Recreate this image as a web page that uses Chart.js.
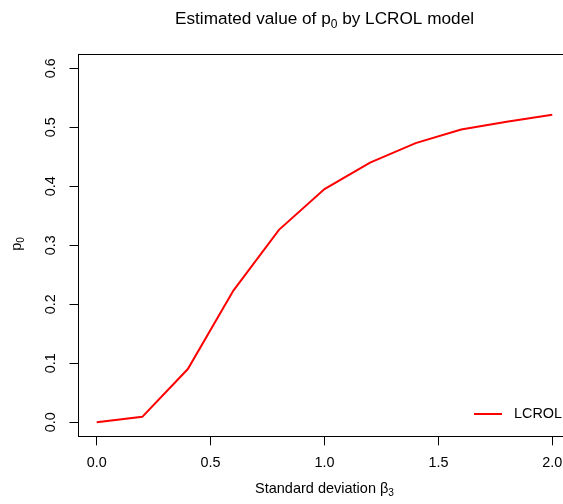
<!DOCTYPE html>
<html>
<head>
<meta charset="utf-8">
<script src="https://cdn.jsdelivr.net/npm/chart.js@4/dist/chart.umd.min.js"></script>
<style>
  html, body { margin: 0; padding: 0; background: #fff; overflow: hidden; width: 563px; height: 504px; }
  #wrap { width: 600px; height: 504px; }
</style>
</head>
<body>
<div id="wrap"><canvas id="c" width="600" height="504"></canvas></div>
<script>
// ---- data ----
const xValues = [0.0, 0.2, 0.4, 0.6, 0.8, 1.0, 1.2, 1.4, 1.6, 1.8, 2.0];
const pValues = [0.000, 0.009, 0.090, 0.223, 0.326, 0.395, 0.440, 0.473, 0.496, 0.509, 0.521];
const xTicks = [0.0, 0.5, 1.0, 1.5, 2.0];
const yTicks = [0.0, 0.1, 0.2, 0.3, 0.4, 0.5, 0.6];
const seriesName = 'LCROL';
// rich texts: [text, isSubscript]
const titleParts = [['Estimated value of p', false], ['0', true], [' by LCROL model', false]];
const xTitleParts = [['Standard deviation \u03B2', false], ['3', true]];
const yTitleParts = [['p', false], ['0', true]];

const FONT = '"Liberation Sans", Arial, Helvetica, sans-serif';

function drawRich(ctx, parts, size, cx, cy, rotate) {
  ctx.save();
  ctx.translate(cx, cy);
  if (rotate) ctx.rotate(-Math.PI / 2);
  ctx.textBaseline = 'alphabetic';
  ctx.textAlign = 'left';
  ctx.fillStyle = '#000';
  let total = 0;
  const widths = parts.map(([t, sub]) => {
    ctx.font = (sub ? size * 0.7 : size) + 'px ' + FONT;
    const w = ctx.measureText(t).width;
    total += w;
    return w;
  });
  let x = -total / 2;
  parts.forEach(([t, sub], i) => {
    ctx.font = (sub ? size * 0.7 : size) + 'px ' + FONT;
    ctx.fillText(t, x, sub ? size * 0.22 : 0);
    x += widths[i];
  });
  ctx.restore();
}

const decorPlugin = {
  id: 'decor',
  afterDraw(chart) {
    const ctx = chart.ctx;
    const a = chart.chartArea;
    ctx.save();
    ctx.strokeStyle = '#000';
    ctx.lineWidth = 1;
    ctx.strokeRect(Math.floor(a.left) + 0.5, Math.floor(a.top) + 0.5,
                   Math.floor(a.right) - Math.floor(a.left), Math.floor(a.bottom) - Math.floor(a.top));
    ctx.restore();
    const cx = (a.left + a.right) / 2;
    drawRich(ctx, titleParts, 17.2, cx, 24, false);
    drawRich(ctx, xTitleParts, 14.5, cx, 493, false);
    drawRich(ctx, yTitleParts, 14.5, 21, 244, true);
    // legend (bottom right, no box)
    const ds = chart.data.datasets[0];
    ctx.save();
    ctx.strokeStyle = ds.borderColor;
    ctx.lineWidth = ds.borderWidth;
    ctx.beginPath();
    ctx.moveTo(474, 414);
    ctx.lineTo(502, 414);
    ctx.stroke();
    ctx.fillStyle = '#000';
    ctx.font = '14.4px ' + FONT;
    ctx.textBaseline = 'middle';
    ctx.textAlign = 'left';
    ctx.fillText(ds.label, 514, 414);
    ctx.restore();
  }
};

new Chart(document.getElementById('c'), {
  type: 'line',
  data: {
    datasets: [{
      label: seriesName,
      data: xValues.map((x, i) => ({ x: x, y: pValues[i] })),
      borderColor: '#FF0000',
      borderWidth: 2,
      pointRadius: 0,
      fill: false,
      tension: 0
    }]
  },
  options: {
    responsive: false,
    animation: false,
    devicePixelRatio: 1,
    layout: { padding: { top: 54, right: 29.5, left: 0, bottom: 0 } },
    plugins: { legend: { display: false }, title: { display: false }, tooltip: { enabled: false } },
    scales: {
      x: {
        type: 'linear',
        min: -0.08,
        max: 2.08,
        afterBuildTicks: (s) => { s.ticks = xTicks.map(v => ({ value: v })); },
        afterFit: (s) => { s.height = 67.7; },
        grid: { drawOnChartArea: false, drawTicks: true, tickLength: 9, color: '#000', lineWidth: 1 },
        border: { display: false },
        ticks: {
          color: '#000',
          font: { family: FONT, size: 14.4 },
          padding: 9,
          maxRotation: 0,
          callback: (v) => Number(v).toFixed(1)
        }
      },
      y: {
        min: -0.024,
        max: 0.624,
        afterBuildTicks: (s) => { s.ticks = yTicks.map(v => ({ value: v })); },
        afterFit: (s) => { s.width = 78.5; },
        grid: { drawOnChartArea: false, drawTicks: true, tickLength: 9, color: '#000', lineWidth: 1 },
        border: { display: false },
        ticks: {
          color: '#000',
          font: { family: FONT, size: 14.4 },
          padding: 8,
          minRotation: 90,
          maxRotation: 90,
          crossAlign: 'center',
          callback: (v) => Number(v).toFixed(1)
        }
      }
    }
  },
  plugins: [decorPlugin]
});
</script>
</body>
</html>
